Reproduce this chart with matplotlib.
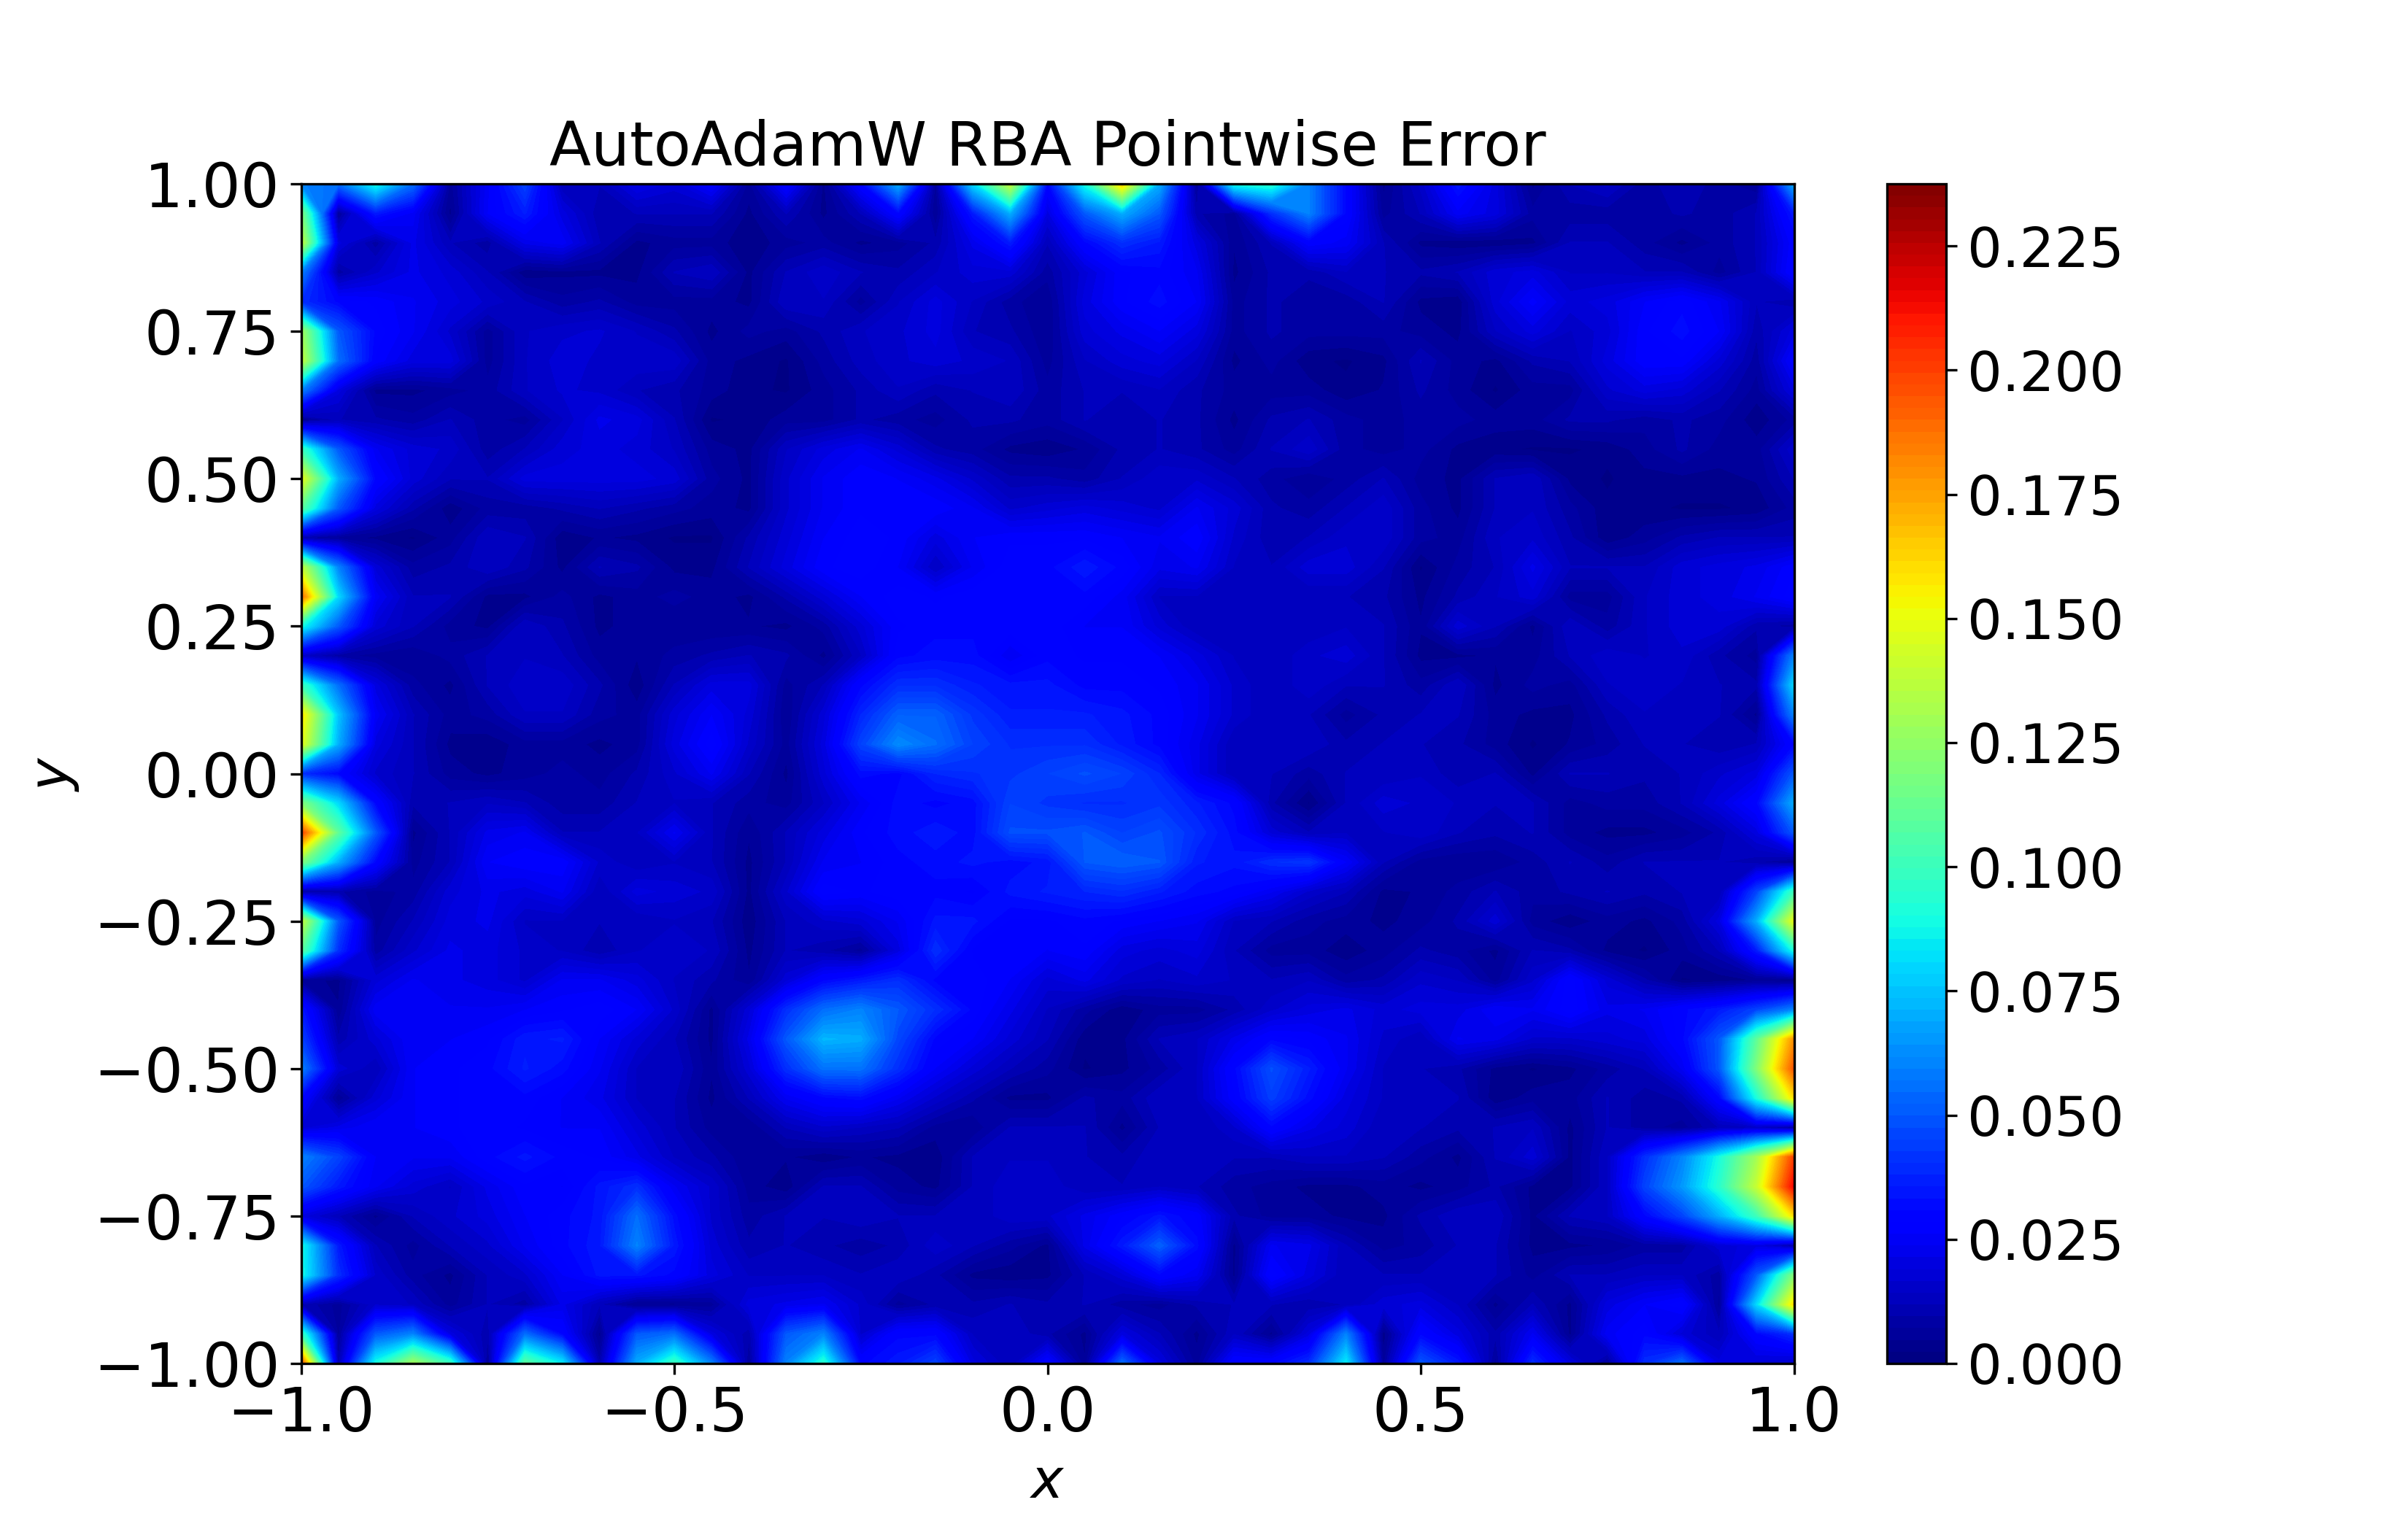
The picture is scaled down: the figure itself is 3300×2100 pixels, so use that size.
import numpy as np
import matplotlib
matplotlib.use('Agg')
import matplotlib.pyplot as plt

# Grid of the error field, 0.05 spacing, rows go from y=1 down to y=-1
x_grid = np.linspace(-1, 1, 41)
y_grid = np.linspace(1, -1, 41)

# Pointwise error, in units of 0.001
error_rows = [
    [60,55,90,55,6,25,45,12,12,22,18,28,6,30,4,30,70,6,80,140,30, 90,165,70,5,90,95,60,30,4,15,35,20,4,12,15,8,12,8,5,70],
    [120,6,35,25,4,26,36,20,10,12,12,12,4,12,4,12,30,5,35,70,20, 50,70,50,10,6,40,60,30,6,12,25,20,8,8,8,8,10,8,12,35],
    [140,20,8,22,12,8,22,25,12,4,6,6,3,6,8,4,6,10,22,35,12, 30,40,35,20,5,12,28,25,12,4,3,3,4,12,12,8,4,8,12,28],
    [60,8,16,22,18,12,3,4,4,4,12,14,4,12,16,12,10,14,18,18,8, 18,28,30,24,4,10,10,14,12,10,12,18,20,14,14,12,12,6,12,30],
    [40,30,28,24,20,16,12,8,10,6,6,6,4,14,14,6,14,20,14,8,5, 20,28,32,26,6,10,8,8,12,4,3,18,27,18,20,26,30,24,12,10],
    [130,50,30,24,16,6,14,16,17,14,10,4,8,6,10,14,16,20,12,10,5, 18,22,26,20,6,10,8,8,8,6,4,14,20,14,18,28,32,26,10,20],
    [140,55,28,20,20,6,14,18,16,16,16,6,4,2,8,13,16,18,16,14,6, 14,18,20,14,4,8,3,2,4,12,6,4,10,12,20,28,28,18,8,28],
    [60,20,4,4,6,8,14,17,16,12,10,6,3,2,6,10,14,10,12,14,8, 12,12,14,10,6,6,6,3,5,10,6,2,6,6,16,20,18,12,6,20],
    [4,12,10,8,12,8,6,14,22,20,12,2,3,6,6,10,8,6,10,10,8, 12,10,12,10,4,10,12,8,6,8,8,6,6,10,10,8,10,8,3,8],
    [100,50,24,18,16,8,12,18,20,18,14,6,4,14,20,24,18,10,8,4,3, 5,10,12,10,6,12,16,8,6,8,4,3,2,2,3,6,10,6,6,16],
    [150,70,30,18,12,12,20,20,20,20,18,8,4,16,24,28,26,22,16,10,10, 8,12,16,16,12,8,5,8,12,6,4,12,14,4,2,4,4,4,5,12],
    [110,50,20,10,3,8,8,10,12,10,8,6,4,16,24,28,28,28,24,16,18, 20,18,16,24,18,10,8,12,16,8,4,12,14,8,3,3,2,2,3,8],
    [10,6,4,2,6,14,12,3,5,4,2,2,10,18,26,30,28,20,26,28,28, 28,26,24,28,16,10,12,16,16,8,6,14,16,10,3,6,10,12,12,12],
    [140,60,18,8,10,14,10,4,12,10,4,4,12,20,28,30,26,14,24,30,30, 35,30,22,24,14,12,18,18,12,2,8,12,22,12,12,12,18,20,22,28],
    [190,80,25,12,12,4,4,8,4,6,8,6,4,10,18,26,30,28,30,30,30, 30,25,14,14,12,12,12,12,10,4,10,14,18,6,6,14,18,20,24,30],
    [90,50,18,12,6,4,14,10,4,6,5,5,5,4,8,18,28,30,30,30,30, 26,26,18,12,12,12,12,14,12,5,18,12,4,14,8,14,18,18,10,8],
    [15,8,6,5,8,12,14,12,6,5,8,10,12,10,4,14,30,32,32,24,30, 28,28,26,20,14,12,16,18,12,4,4,5,6,12,16,14,16,10,6,60],
    [100,55,20,8,4,12,16,16,10,3,12,20,20,6,12,30,40,40,36,34,34, 30,30,28,24,16,12,16,12,12,8,14,4,8,6,14,16,14,12,10,80],
    [160,75,25,12,6,8,14,14,8,6,18,26,18,5,18,38,52,52,42,36,36, 36,34,30,24,16,12,12,6,10,12,12,6,4,4,10,14,14,12,4,60],
    [150,70,20,12,4,3,6,6,4,6,20,30,16,6,20,45,62,55,45,40,40, 40,35,30,22,12,12,14,10,12,12,10,6,2,5,8,12,12,10,12,30],
    [40,30,16,12,6,4,6,8,6,10,16,24,12,4,18,32,30,38,40,42,45, 48,45,38,22,12,12,8,12,12,14,10,12,4,12,12,10,12,16,20,50],
    [120,80,30,10,12,14,12,8,8,12,14,12,8,6,14,24,32,30,32,45,42, 40,40,42,36,30,10,2,12,18,16,14,12,12,6,8,8,12,20,30,70],
    [200,110,50,4,12,22,24,12,12,14,24,12,5,12,20,28,32,35,32,48,48, 50,45,48,40,32,18,12,14,14,16,12,10,12,6,4,4,6,10,20,50],
    [120,70,30,6,12,26,28,28,16,12,14,12,4,12,24,26,30,32,34,32,34, 50,52,50,36,34,40,42,26,12,6,5,5,8,12,8,12,12,12,10,4],
    [8,10,6,8,18,22,20,24,12,20,18,16,4,16,30,28,30,30,28,34,36, 38,40,36,32,30,24,16,12,4,5,8,12,8,10,12,10,12,12,45,100],
    [140,50,6,12,20,22,14,14,12,12,14,12,3,12,16,18,24,34,34,28,28, 30,28,26,24,14,12,8,6,4,6,10,18,6,3,6,4,8,20,70,150],
    [110,40,8,16,22,20,16,14,10,14,16,14,4,12,10,6,20,40,28,28,26, 28,20,18,20,12,6,6,3,6,10,8,4,12,10,4,2,6,12,35,90],
    [6,4,18,24,22,20,16,24,24,20,14,10,5,18,30,35,40,30,30,26,18, 22,16,14,16,14,12,14,8,10,16,14,6,16,30,18,10,2,3,5,3],
    [35,5,25,26,24,24,26,28,30,26,16,4,18,40,55,60,50,40,30,22,14, 8,3,6,6,10,16,20,22,18,20,20,26,24,30,22,24,30,35,45,60],
    [45,10,18,26,26,28,35,36,26,18,12,4,22,50,72,70,46,30,26,18,12, 3,4,12,14,22,30,28,24,16,12,24,22,16,16,18,20,30,50,110,180],
    [60,18,12,26,28,30,36,32,24,14,14,5,18,40,56,56,40,26,18,12,8, 2,4,8,14,30,48,36,24,14,12,10,4,2,4,8,12,24,50,120,195],
    [30,5,18,26,28,30,30,26,22,14,12,4,12,24,30,32,24,16,10,4,4, 10,8,14,14,28,44,32,20,14,12,12,3,6,6,12,8,10,30,90,160],
    [18,22,26,26,28,30,28,26,26,18,12,6,5,12,16,14,12,6,5,12,12, 12,4,12,12,16,30,22,18,12,12,10,12,14,4,12,8,6,12,14,6],
    [60,45,26,24,24,30,34,30,28,22,14,10,5,5,3,5,4,3,12,14,14, 12,10,14,12,12,12,14,14,12,8,4,12,18,4,14,40,60,90,130,200],
    [50,35,24,18,14,22,28,26,34,40,24,16,6,3,12,12,6,4,12,16,16, 12,12,14,12,8,6,4,4,6,4,6,10,4,4,14,45,65,95,140,215],
    [20,12,4,12,16,20,26,30,34,55,32,16,8,12,12,14,12,12,12,16,16, 22,28,34,28,10,6,6,4,4,10,14,14,4,12,14,30,45,70,100,160],
    [90,35,12,6,12,16,24,30,35,60,35,18,10,12,10,8,10,16,12,8,4, 22,35,52,32,4,24,22,12,6,8,12,12,4,4,5,8,8,18,20,8],
    [90,40,16,8,4,12,16,26,34,34,30,20,14,14,14,12,14,10,4,3,4, 12,18,30,24,4,30,20,12,12,12,14,12,6,12,12,14,14,8,50,120],
    [12,6,16,14,6,12,8,22,12,4,4,6,20,22,24,16,6,10,10,12,10, 12,8,6,10,12,12,10,12,18,20,14,4,12,4,20,26,30,6,80,160],
    [100,6,50,60,20,10,55,30,4,50,55,20,10,50,60,16,30,30,14,14,10, 4,20,12,4,14,4,20,60,3,30,20,10,24,4,25,30,18,12,30,40],
    [200,10,90,130,100,4,110,85,10,70,100,60,6,60,95,30,35,45,20,12,30, 5,55,20,6,30,30,40,85,6,50,35,6,40,20,6,40,55,20,18,15],
]

error = np.array(error_rows) / 1000.0
err_max = 0.2375

plt.figure(figsize=(11, 7), dpi=300)
levels = np.linspace(0, err_max, 101)
cf = plt.contourf(x_grid, y_grid, error, levels=levels, cmap='jet')

cbar = plt.colorbar(cf)
cbar.ax.tick_params(labelsize=18)
cbar.set_ticks([0.0, 0.025, 0.05, 0.075, 0.1, 0.125, 0.15, 0.175, 0.2, 0.225])

plt.xticks([-1.0, -0.5, 0.0, 0.5, 1.0], fontsize=20)
plt.yticks([-1.0, -0.75, -0.5, -0.25, 0.0, 0.25, 0.5, 0.75, 1.0], fontsize=20)
plt.xlabel('$x$', fontsize=18)
plt.ylabel('$y$', fontsize=18)
plt.title('AutoAdamW RBA Pointwise Error', fontsize=20)

plt.savefig('out.png', dpi=300)
